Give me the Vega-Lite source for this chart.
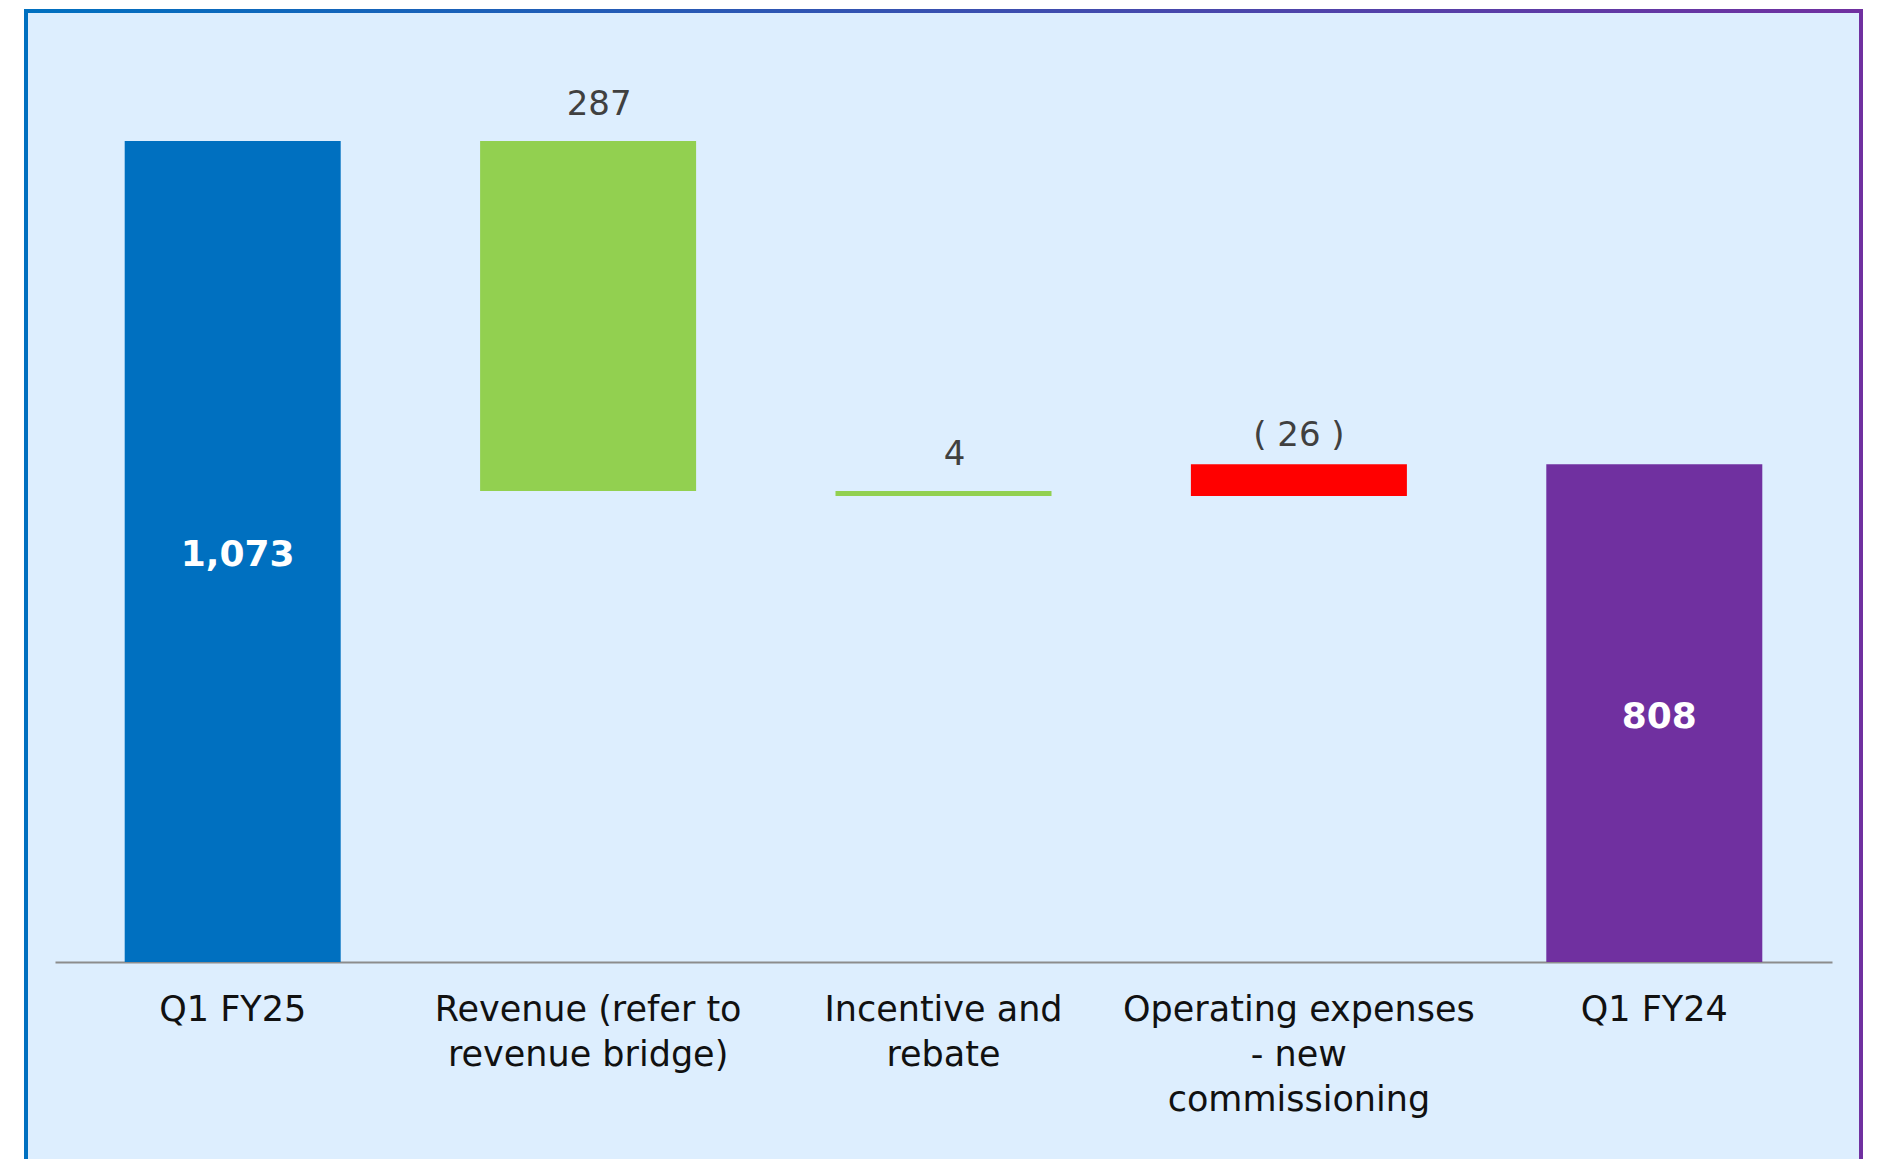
{
  "$schema": "https://vega.github.io/schema/vega-lite/v6.json",
  "width": 1835,
  "height": 1148,
  "autosize": "none",
  "padding": {"left": 26, "top": 11, "right": 19, "bottom": 0},
  "background": "white",
  "view": {
    "fill": "#DDEEFE",
    "stroke": {"gradient": "linear", "x1": 0, "y1": 0, "x2": 1, "y2": 0, "stops": [{"offset": 0, "color": "#0070C0"}, {"offset": 1, "color": "#7030A0"}]},
    "strokeWidth": 4,
    "strokeDash": [2983, 1835, 1148]
  },
  "data": {
    "values": [
      {"category": "Q1 FY25", "start": 0, "end": 1073, "type": "FY25", "label": "1,073"},
      {"category": "Revenue (refer to revenue bridge)", "start": 786, "end": 1073, "type": "increase", "label": "287"},
      {"category": "Incentive and rebate", "start": 782, "end": 786, "type": "increase", "label": "4"},
      {"category": "Operating expenses - new commissioning", "start": 808, "end": 782, "type": "decrease", "label": "( 26 )"},
      {"category": "Q1 FY24", "start": 0, "end": 808, "type": "FY24", "label": "808"}
    ]
  },
  "encoding": {
    "x": {
      "field": "category",
      "type": "nominal",
      "sort": null,
      "scale": {"range": [29, 1806], "paddingInner": 0, "paddingOuter": 0},
      "axis": {
        "title": null,
        "orient": "bottom",
        "offset": -197,
        "ticks": false,
        "labelAngle": 0,
        "labelPadding": 30,
        "labelFont": "DejaVu Sans",
        "labelFontSize": 35,
        "labelColor": "#111111",
        "labelLineHeight": 45,
        "labelLimit": 0,
        "labelOverlap": false,
        "labelFlush": false,
        "labelBaseline": "top",
        "domainColor": "#8C8C8C",
        "domainWidth": 2,
        "grid": false,
        "labelExpr": "datum.value == 'Revenue (refer to revenue bridge)' ? ['Revenue (refer to', 'revenue bridge)'] : datum.value == 'Incentive and rebate' ? ['Incentive and', 'rebate'] : datum.value == 'Operating expenses - new commissioning' ? ['Operating expenses', '- new', 'commissioning'] : datum.value"
      }
    }
  },
  "layer": [
    {
      "mark": {"type": "bar", "width": 216},
      "encoding": {
        "y": {
          "field": "end",
          "type": "quantitative",
          "scale": {"domain": [400, 1150], "range": [951, 36], "clamp": true, "zero": false, "nice": false},
          "axis": null
        },
        "y2": {"field": "start"},
        "color": {
          "field": "type",
          "type": "nominal",
          "scale": {"domain": ["FY25", "increase", "decrease", "FY24"], "range": ["#0070C0", "#92D050", "#FF0000", "#7030A0"]},
          "legend": null
        }
      }
    },
    {
      "transform": [
        {"filter": "datum.type == 'increase'"}
      ],
      "mark": {"type": "text", "dx": 11, "dy": -26, "baseline": "alphabetic", "font": "DejaVu Sans", "fontSize": 34, "color": "#404040"},
      "encoding": {
        "y": {"field": "end", "type": "quantitative"},
        "text": {"field": "label"}
      }
    },
    {
      "transform": [
        {"filter": "datum.type == 'decrease'"}
      ],
      "mark": {"type": "text", "dy": -18, "baseline": "alphabetic", "font": "DejaVu Sans", "fontSize": 34, "color": "#404040"},
      "encoding": {
        "y": {"field": "start", "type": "quantitative"},
        "text": {"field": "label"}
      }
    },
    {
      "transform": [
        {"filter": "datum.type == 'FY25' || datum.type == 'FY24'"},
        {"calculate": "(max(datum.start, 400) + datum.end) / 2", "as": "mid"}
      ],
      "mark": {"type": "text", "baseline": "middle", "font": "DejaVu Sans", "fontWeight": "bold", "fontSize": 36, "color": "white", "dx": 5, "dy": 4},
      "encoding": {
        "y": {"field": "mid", "type": "quantitative"},
        "text": {"field": "label"}
      }
    }
  ]
}
